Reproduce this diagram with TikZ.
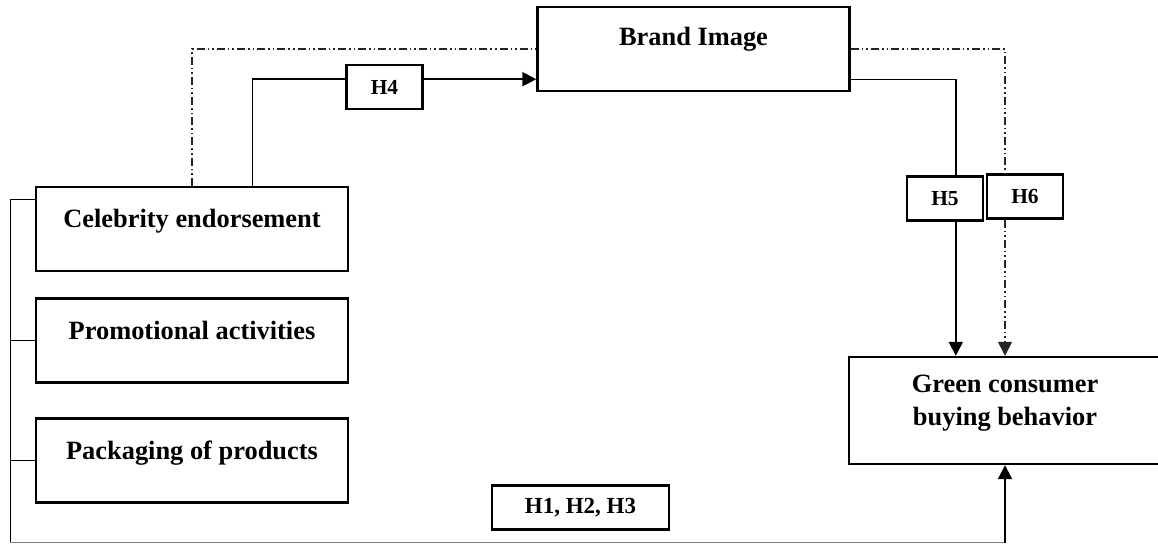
\documentclass[tikz,border=0pt]{standalone}
\usepackage{fontspec}
\setmainfont{Liberation Serif}
\usetikzlibrary{arrows.meta,positioning,calc}

\tikzset{
  var/.style={draw, line width=1.2pt, fill=white, minimum width=156pt, minimum height=42pt,
    text height=10pt, text depth=11pt, font=\fontsize{13.2}{16.5}\selectfont\bfseries},
  hyp/.style={draw, line width=1.2pt, fill=white, minimum width=38pt, minimum height=22pt,
    inner sep=0pt, font=\fontsize{10.7}{13}\selectfont\bfseries},
  link/.style={line width=0.5pt},
  mainlink/.style={line width=1.1pt},
  altlink/.style={line width=0.7pt, black!85,
    dash pattern=on 4pt off 1.5pt on 0.8pt off 1.5pt on 0.8pt off 1.5pt},
  arr/.style={-{Triangle[length=7pt,width=7pt]}}
}

\begin{document}
\begin{tikzpicture}[x=0.5pt, y=-0.5pt, on grid]
  \useasboundingbox (0,0) rectangle (1158,544);

  % variables
  \node[var]                (celeb)  at (192,229)             {Celebrity endorsement};
  \node[var]                (promo)  [below=55.75pt of celeb] {Promotional activities};
  \node[var]                (pack)   [below=60pt of promo]    {Packaging of products};
  \node[var, text depth=13pt] (brand) at (693.5,49)           {Brand Image};
  \node[var, minimum height=53.5pt, text height=20pt, text depth=22.4pt]
                            (green)  at (1005,410.5)
        {\begin{tabular}{@{}c@{}}Green consumer\\buying behavior\end{tabular}};

  % hypotheses
  \node[hyp] (h4)   at (384.5,87)   {H4};
  \node[hyp] (h5)   at (945,198.5)  {H5};
  \node[hyp] (h6)   at (1025,196.5) {H6};
  \node[hyp, minimum width=88.5pt, font=\fontsize{11.5}{13}\selectfont\bfseries]
             (h123) at (580.5,507.5) {H1, H2, H3};

  \coordinate (celebtop)  at ($(celeb.north)+(60,0)$);
  \coordinate (brandin)   at ($(brand.south west)+(0,-13)$);
  \coordinate (brandout)  at ($(brand.south east)+(0,-13)$);
  \coordinate (greenin)   at ($(green.north west)+(108,0)$);
  \coordinate (celebleft) at ($(celeb.north west)+(0,14)$);
  \coordinate (rail)      at (10,543);

  % mediated paths
  \draw[altlink] (celeb.north) |- (brand.west);
  \draw[altlink] (brand.east) -| (green.north |- h6.north);
  \draw[altlink, arr] (green.north |- h6.south) -- (green.north);

  \draw[link] (celebtop) -- (celebtop |- brandin);
  \draw[mainlink] (celebtop |- brandin) -- (h4.west |- brandin);
  \draw[mainlink, arr] (h4.east |- brandin) -- (brandin);
  \draw[link] (brandout) -- (greenin |- brandout);
  \draw[mainlink] (greenin |- brandout) -- (greenin |- h5.north);
  \draw[mainlink, arr] (greenin |- h5.south) -- (greenin);

  % direct paths
  \draw[link] (celebleft) -| (rail);
  \draw[link] (promo.west) -- (promo.west -| rail);
  \draw[link] (pack.west) -- (pack.west -| rail);
  \draw[link, gray] (rail) -- (rail -| green.south);
  \draw[mainlink, arr] (rail -| green.south) -- (green.south);
\end{tikzpicture}
\end{document}
